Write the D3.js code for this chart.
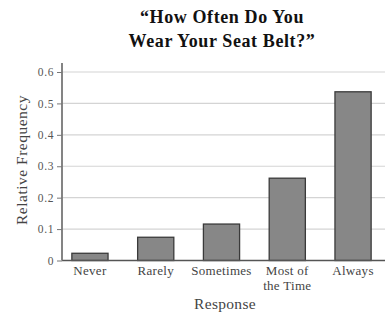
<!DOCTYPE html>
<meta charset="utf-8">
<html>
<head>
<script src="https://d3js.org/d3.v7.min.js"></script>
<style>
  body { margin: 0; background: #fff; }
  text { font-family: "Liberation Serif", "DejaVu Serif", serif; }
</style>
</head>
<body>
<div id="my_dataviz"></div>
<script>
    // data
    const responses = ["Never", "Rarely", "Sometimes", "Most of|the Time", "Always"];
    const freqs = [0.023, 0.074, 0.116, 0.262, 0.537];
    const yTicks = [0, 0.1, 0.2, 0.3, 0.4, 0.5, 0.6];

    const W = 385, H = 314;
    const svg = d3.select("#my_dataviz")
      .append("svg")
        .attr("width", W)
        .attr("height", H);

    const x = d3.scaleBand()
      .domain(responses)
      .range([62, 381])
      .paddingInner(0.45)
      .paddingOuter(0.15);

    const y = d3.scaleLinear()
      .domain([0, 0.6])
      .range([260.5, 72]);

    // gridlines
    svg.append("g")
      .selectAll("line")
      .data(yTicks.slice(1))
      .join("line")
        .attr("x1", 62).attr("x2", W)
        .attr("y1", d => y(d)).attr("y2", d => y(d))
        .attr("stroke", "#d4d4d4")
        .attr("stroke-width", 1.2);

    // bars
    svg.append("g")
      .selectAll("rect")
      .data(responses)
      .join("rect")
        .attr("x", d => x(d))
        .attr("width", x.bandwidth())
        .attr("y", (d, i) => y(freqs[i]))
        .attr("height", (d, i) => y(0) - y(freqs[i]))
        .attr("fill", "#878787")
        .attr("stroke", "#3a3a3a")
        .attr("stroke-width", 1.3);

    // baseline
    svg.append("line")
      .attr("x1", 62).attr("x2", W)
      .attr("y1", y(0)).attr("y2", y(0))
      .attr("stroke", "#555").attr("stroke-width", 1.3);

    // y axis
    const yAxis = svg.append("g")
      .attr("transform", "translate(62,0)")
      .call(d3.axisLeft(y).tickValues(yTicks).tickSize(5)
        .tickFormat(d => d === 0 ? "0" : d3.format(".1f")(d)));
    yAxis.select(".domain")
      .attr("d", `M0,${y(0)}V63`)
      .attr("stroke", "#777").attr("stroke-width", 1.8);
    yAxis.selectAll(".tick line").attr("stroke", "#777");
    yAxis.selectAll(".tick text")
      .attr("x", -8)
      .attr("fill", "#555")
      .style("font-size", "11.5px")
      .style("letter-spacing", "0.6px")
      .style("font-family", "'Liberation Serif', serif");

    // x labels
    const xl = svg.append("g")
      .selectAll("text")
      .data(responses)
      .join("text")
        .attr("x", d => x(d) + x.bandwidth() / 2)
        .attr("y", 275)
        .attr("text-anchor", "middle")
        .attr("fill", "#444")
        .style("font-size", "13px")
        .style("letter-spacing", "0.3px");
    xl.selectAll("tspan")
      .data(d => d.split("|"))
      .join("tspan")
        .attr("x", function() { return d3.select(this.parentNode).attr("x"); })
        .attr("dy", (d, i) => i === 0 ? 0 : 15)
        .text(d => d);

    // axis titles
    svg.append("text")
      .attr("x", 225).attr("y", 309)
      .attr("text-anchor", "middle")
      .attr("fill", "#444")
      .style("font-size", "15.5px")
      .style("letter-spacing", "0.3px")
      .text("Response");

    svg.append("text")
      .attr("transform", "translate(27,160) rotate(-90)")
      .attr("text-anchor", "middle")
      .attr("fill", "#444")
      .style("font-size", "15.5px")
      .style("letter-spacing", "0.5px")
      .text("Relative Frequency");

    // title
    const title = svg.append("text")
      .attr("text-anchor", "middle")
      .attr("fill", "#111")
      .style("font-size", "18px")
      .style("font-weight", "bold")
      .style("letter-spacing", "0.6px");
    title.append("tspan").attr("x", 222).attr("y", 23).text("\u201CHow Often Do You");
    title.append("tspan").attr("x", 222).attr("y", 47).text("Wear Your Seat Belt?\u201D");
</script>
</body>
</html>
